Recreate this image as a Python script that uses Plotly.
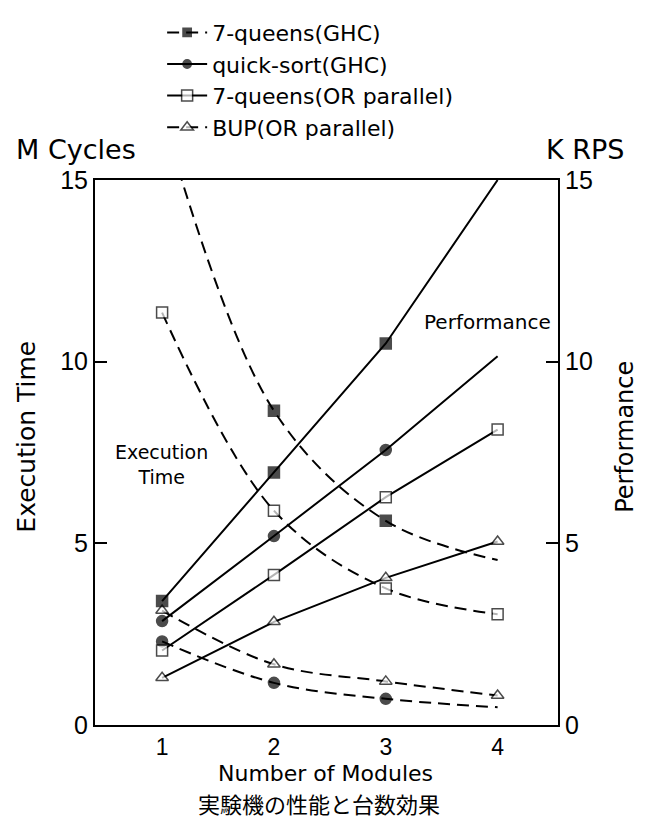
import plotly.graph_objects as go

# ---- data ----
modules = [1, 2, 3, 4]

# Execution time (M cycles, left axis)
exec_7q_ghc = [16.8, 8.65, 5.62, 4.54]
exec_qsort = [2.30, 1.16, 0.72, 0.49]
exec_7q_or = [11.35, 5.90, 3.76, 3.05]
exec_bup = [3.15, 1.67, 1.20, 0.81]

# Performance (K RPS, right axis)
perf_7q_ghc = [3.41, 6.95, 10.50, 15.0]
perf_qsort = [2.86, 5.20, 7.57, 10.15]
perf_7q_or = [2.05, 4.13, 6.27, 8.13]
perf_bup = [1.30, 2.84, 4.05, 5.05]

names = ["7-queens(GHC)", "quick-sort(GHC)", "7-queens(OR parallel)", "BUP(OR parallel)"]
y_ticks = [0, 5, 10, 15]
x_ticks = [1, 2, 3, 4]

# marker presence per point (last point of GHC curves has no marker)
ghc_marker_sizes = [11, 11, 11, 0]
or_marker_sizes = [11, 11, 11, 11]

DASH = "12px,7px"
BLACK = "black"
LW = 2

fig = go.Figure()

def add(yvals, name, axis, dash, symbol, filled, sizes, shape, show, rank):
    fig.add_trace(go.Scatter(
        x=modules, y=yvals, name=name, yaxis=axis,
        mode="lines+markers",
        line=dict(color=BLACK, width=LW, dash=dash, shape=shape),
        marker=dict(symbol=symbol, size=sizes,
                    color=BLACK if filled else "white",
                    line=dict(color=BLACK, width=1.5)),
        showlegend=show, legendrank=rank,
    ))

# execution time curves (dashed, smooth)
add(exec_7q_ghc, names[0], "y", DASH, "square", True, ghc_marker_sizes, "spline", True, 1)
add(exec_qsort, names[1], "y", DASH, "circle", True, ghc_marker_sizes, "spline", False, 2)
add(exec_7q_or, names[2], "y", DASH, "square", False, or_marker_sizes, "spline", False, 3)
add(exec_bup, names[3], "y", DASH, "triangle-up", False, or_marker_sizes, "spline", True, 4)

# performance lines (solid)
add(perf_7q_ghc, names[0], "y2", "solid", "square", True, ghc_marker_sizes, "linear", False, 1)
add(perf_qsort, names[1], "y2", "solid", "circle", True, ghc_marker_sizes, "linear", True, 2)
add(perf_7q_or, names[2], "y2", "solid", "square", False, or_marker_sizes, "linear", True, 3)
add(perf_bup, names[3], "y2", "solid", "triangle-up", False, or_marker_sizes, "linear", False, 4)

TICKFAMILY = "Liberation Sans Narrow, Liberation Sans, Arial"
LABELFONT = dict(family="DejaVu Sans, Liberation Sans", size=25, color=BLACK)
BIGFONT = dict(family="DejaVu Sans, Liberation Sans", size=27, color=BLACK)

axis_common = dict(
    showline=True, linewidth=2, linecolor=BLACK, showgrid=False, zeroline=False,
)

fig.update_layout(
    width=645, height=822,
    margin=dict(l=95, r=87, t=173, b=97),
    plot_bgcolor="white", paper_bgcolor="white",
    xaxis=dict(range=[0.4, 4.54], tickvals=x_ticks, ticks="", mirror=True,
               tickfont=dict(family=TICKFAMILY, size=23, color=BLACK), **axis_common),
    yaxis=dict(range=[0, 15], tickvals=y_ticks, ticks="inside", ticklen=12, tickwidth=1.5,
               tickcolor=BLACK, tickfont=dict(family=TICKFAMILY, size=25, color=BLACK),
               **axis_common),
    yaxis2=dict(range=[0, 15], tickvals=y_ticks, ticks="inside", ticklen=12, tickwidth=1.5,
                tickcolor=BLACK, overlaying="y", side="right",
                tickfont=dict(family=TICKFAMILY, size=25, color=BLACK), **axis_common),
    legend=dict(x=0.145, y=1.309, xanchor="left", yanchor="top",
                font=dict(family="DejaVu Sans, Liberation Sans", size=22, color=BLACK),
                bgcolor="rgba(0,0,0,0)", tracegroupgap=0, itemwidth=40),
    showlegend=True,
)

ann = [
    dict(text="M Cycles", x=-0.041, y=1.056, font=BIGFONT),
    dict(text="K RPS", x=1.058, y=1.056, font=BIGFONT),
    dict(text="Execution Time", x=-0.147, y=0.529, textangle=-90, font=LABELFONT),
    dict(text="Performance", x=1.145, y=0.529, textangle=-90,
         font=dict(family="DejaVu Sans, Liberation Sans", size=24, color=BLACK)),
    dict(text="Performance", x=0.848, y=0.739,
         font=dict(family="DejaVu Sans, Liberation Sans", size=20, color=BLACK)),
    dict(text="Execution<br>Time", x=0.143, y=0.478,
         font=dict(family="DejaVu Sans, Liberation Sans", size=19, color=BLACK)),
    dict(text="Number of Modules", x=0.497, y=-0.0888,
         font=dict(family="DejaVu Sans, Liberation Sans", size=22, color=BLACK)),
    dict(text="実験機の性能と台数効果", x=0.483, y=-0.1440,
         font=dict(family="Noto Sans CJK JP", size=22, color=BLACK)),
]
for a in ann:
    a.update(xref="paper", yref="paper", showarrow=False, xanchor="center", yanchor="middle")
fig.update_layout(annotations=ann)

# remove the default page margin so the 645x822 figure fills the window exactly
fig.write_html("out.html",
               config={"displayModeBar": False},
               post_script="document.body.style.margin='0';document.body.style.overflow='hidden';")
